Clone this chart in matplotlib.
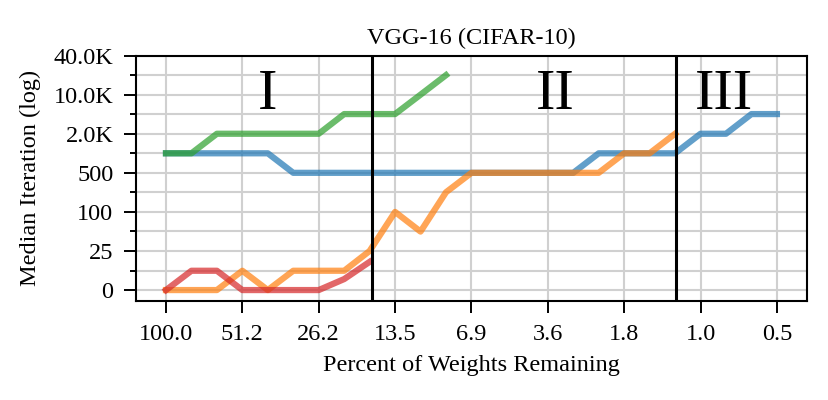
import numpy as np
import matplotlib
matplotlib.use("Agg")
import matplotlib.pyplot as plt
from matplotlib.ticker import FixedLocator

plt.rcParams["font.family"] = ["Liberation Serif", "DejaVu Serif"]

# tick labels
pct_labels = ["100.0", "51.2", "26.2", "13.5", "6.9", "3.6", "1.8", "1.0", "0.5"]
y_tick_vals = np.array([0, 25, 100, 500, 2000, 10000, 40000])
y_tick_labels = ["0", "25", "100", "500", "2.0K", "10.0K", "40.0K"]

# median iteration per pruning round
blue = [1000, 1000, 1000, 1000, 1000, 500, 500, 500, 500, 500, 500, 500, 500,
        500, 500, 500, 500, 1000, 1000, 1000, 1000, 2000, 2000, 4500, 4500]
orange = [0, 0, 0, 4, 0, 4, 4, 4, 25, 100, 50, 225, 500, 500, 500, 500, 500,
          500, 1000, 1000, 2000]
green = [1000, 1000, 2000, 2000, 2000, 2000, 2000, 4500, 4500, 4500, 10000, 20000]
red = [0, 4, 4, 0, 0, 0, 0, 1.5, 9.5]

# custom "log" axis: tick values evenly spaced
L = np.log1p(y_tick_vals)
idx = np.arange(len(L))


def fwd(v):
    x = np.log1p(np.clip(v, -0.999, None))
    out = np.interp(x, L, idx)
    out = np.where(x < L[0], (x - L[0]) / (L[1] - L[0]), out)
    out = np.where(x > L[-1], idx[-1] + (x - L[-1]) / (L[-1] - L[-2]), out)
    return out


def inv(y):
    y = np.asarray(y, dtype=float)
    x = np.interp(y, idx, L)
    x = np.where(y < 0, y * (L[1] - L[0]), x)
    x = np.where(y > idx[-1], L[-1] + (y - idx[-1]) * (L[-1] - L[-2]), x)
    return np.expm1(x)


fig = plt.figure(figsize=(8.29, 4), dpi=100)
ax = fig.add_axes([0.164, 0.2475, 0.81, 0.6135])
ax.set_yscale("function", functions=(fwd, inv))

lw = 4.5
for data, c in [(blue, "tab:blue"), (orange, "tab:orange"), (green, "tab:green"), (red, "tab:red")]:
    ax.plot(np.arange(len(data)), data, color=c, lw=lw, alpha=0.7)

ax.axvline(8.1, color="black", lw=2.2)
ax.axvline(20.05, color="black", lw=2.2)

ax.text(4.0, inv(5.0), "I", fontsize=42, ha="center", va="center")
ax.text(15.3, inv(5.0), "II", fontsize=42, ha="center", va="center")
ax.text(21.9, inv(5.0), "III", fontsize=42, ha="center", va="center")

ax.set_xlim(-1.18, 25.2)
ax.set_ylim(inv(-0.28), 40000)

ax.set_xticks(np.arange(0, 25, 3))
ax.set_xticklabels(pct_labels)
ax.yaxis.set_major_locator(FixedLocator(y_tick_vals))
ax.yaxis.set_minor_locator(FixedLocator(inv(np.arange(6) + 0.5)))
ax.set_yticklabels(y_tick_labels)
ax.yaxis.set_minor_formatter(plt.NullFormatter())

ax.grid(True, which="major", color="#d0d0d0", lw=1.5)
ax.grid(True, which="minor", axis="y", color="#d0d0d0", lw=1.5)
ax.set_axisbelow(True)

ax.tick_params(which="major", length=8.3, width=1.4, labelsize=17.5, pad=8)
ax.tick_params(which="minor", length=4.5, width=1.4)
for s in ax.spines.values():
    s.set_linewidth(1.5)

ax.set_title("VGG-16 (CIFAR-10)", fontsize=17.5, pad=8.5)
ax.set_xlabel("Percent of Weights Remaining", fontsize=17.5, labelpad=7.5)
ax.set_ylabel("Median Iteration (log)", fontsize=17.5, labelpad=9)

fig.savefig("out.png", dpi=100)
